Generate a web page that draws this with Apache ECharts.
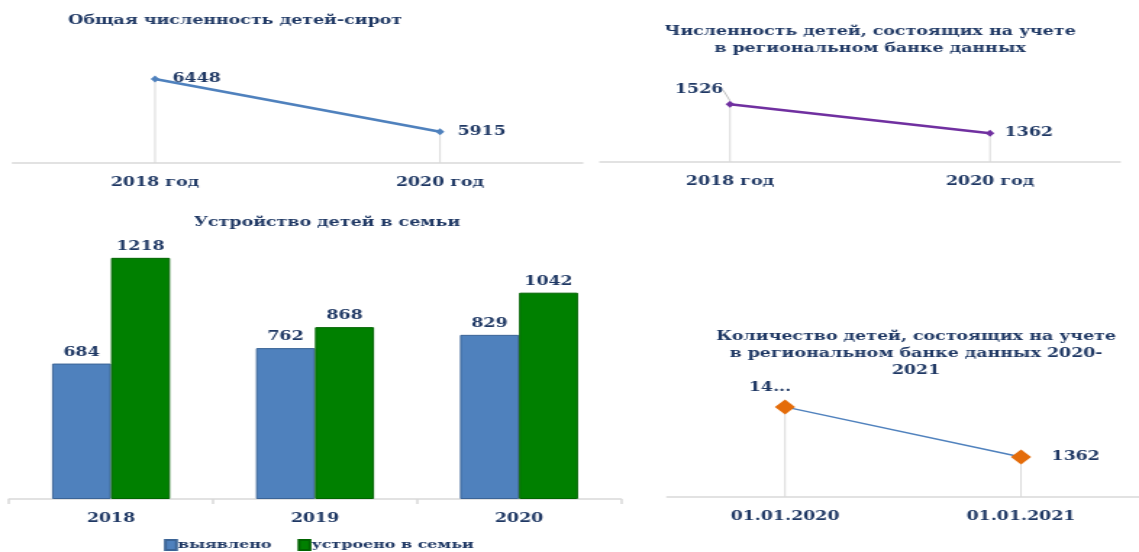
<!DOCTYPE html>
<html>
<head>
<meta charset="utf-8">
<script src="https://cdn.jsdelivr.net/npm/echarts@6/dist/echarts.min.js"></script>
<style>
html,body{margin:0;padding:0;background:#fff;overflow:hidden;}
#c{width:786px;height:552px;transform-origin:0 0;}
</style>
</head>
<body>
<div id="c"></div>
<script>
// ---- data ----
const cat1 = ['2018 год', '2020 год'];
const orphans = [6448, 5915];

const cat2 = ['2018 год', '2020 год'];
const registered = [1526, 1362];

const cat3 = ['2018', '2019', '2020'];
const identified = [684, 762, 829];
const placed = [1218, 868, 1042];

const cat4 = ['01.01.2020', '01.01.2021'];
const registered2 = [1440, 1362];
const labels4 = ['14...', '1362'];

const titles = [
  'Общая численность детей-сирот',
  'Численность детей, состоящих на учете\nв региональном банке данных',
  'Устройство детей в семьи',
  'Количество детей, состоящих на учете\nв региональном банке данных 2020-\n2021'
];
const legendNames = ['выявлено', 'устроено в семьи'];

// ---- layout (page is stretched horizontally like the reference) ----
const W = 786;
const K = 1139 / W;
document.getElementById('c').style.transform = 'scaleX(' + K + ')';
const X = v => v / K;

const NAVY = '#1F3864';
const FONT = 'DejaVu Serif';
const T = {fontFamily: FONT, fontWeight: 'bold', fontSize: 12, color: NAVY};
const AXLINE = {lineStyle: {color: '#D9D9D9', width: 1.5}};

const chart = echarts.init(document.getElementById('c'));

function catAxis(gi, data, ticks) {
  return {
    type: 'category', gridIndex: gi, data: data,
    axisLine: AXLINE,
    axisTick: ticks ? {show: true, length: 5, lineStyle: {color: '#D9D9D9', width: 1.5}} : {show: false},
    axisLabel: Object.assign({margin: 14}, T),
    splitLine: {show: false}
  };
}
function valAxis(gi, min, max) {
  return {type: 'value', gridIndex: gi, min: min, max: max, show: false, splitLine: {show: false}};
}
function dropLines(gi, data) {
  return {
    type: 'bar', xAxisIndex: gi, yAxisIndex: gi, data: data, barWidth: 1,
    itemStyle: {color: '#D9D9D9'}, silent: true, z: 1, label: {show: false}
  };
}

const option = {
  animation: false,
  textStyle: {fontFamily: FONT},
  title: [
    {text: titles[0], left: X(68), top: 15, padding: 0, textStyle: T},
    {text: titles[1], left: X(870), top: 23, padding: 0, textAlign: 'center', textStyle: Object.assign({lineHeight: 17}, T)},
    {text: titles[2], left: X(327), top: 217, padding: 0, textAlign: 'center', textStyle: T},
    {text: titles[3], left: X(916), top: 328, padding: 0, textAlign: 'center', textStyle: Object.assign({lineHeight: 17}, T)}
  ],
  legend: {
    data: legendNames, left: X(164), top: 539, padding: 0,
    icon: 'rect', itemWidth: X(11), itemHeight: 10, itemGap: X(26),
    textStyle: Object.assign({}, T, {fontSize: 11, padding: [0, 0, 0, -4]})
  },
  grid: [
    {left: X(12.5), width: X(570), top: 64, height: 99},
    {left: X(600), width: X(520), top: 82.4, height: 79.6},
    {left: X(9), width: X(612), top: 221.8, height: 277.2},
    {left: X(667), width: X(484), top: 394, height: 103}
  ],
  xAxis: [catAxis(0, cat1), catAxis(1, cat2), catAxis(2, cat3, true), catAxis(3, cat4)],
  yAxis: [valAxis(0, 5600, 6600), valAxis(1, 1200, 1650), valAxis(2, 0, 1400), valAxis(3, 1300, 1460)],
  series: [
    dropLines(0, orphans),
    {
      type: 'line', xAxisIndex: 0, yAxisIndex: 0, data: orphans, z: 3,
      lineStyle: {color: '#4F81BD', width: 2.5}, itemStyle: {color: '#4F81BD'},
      symbol: 'diamond', symbolSize: [6, 7],
      label: Object.assign({show: true, position: 'right', distance: 9}, T)
    },
    dropLines(1, registered),
    {
      type: 'line', xAxisIndex: 1, yAxisIndex: 1, z: 3,
      data: registered.map((v, i) => i === 0
        ? {value: v, labelLine: {show: true, lineStyle: {color: '#BFBFBF', width: 1}}}
        : {value: v, labelLine: {show: false}}),
      lineStyle: {color: '#7030A0', width: 2.5}, itemStyle: {color: '#7030A0'},
      symbol: 'diamond', symbolSize: [6, 7],
      label: Object.assign({show: true, position: 'right', distance: 7}, T),
      labelLayout: function (p) {
        return p.dataIndex === 0 ? {dx: -48, dy: -14} : {};
      }
    },
    {
      name: legendNames[0], type: 'bar', xAxisIndex: 2, yAxisIndex: 2, data: identified,
      barWidth: X(59), barGap: '0%',
      itemStyle: {color: '#4F81BD', borderColor: '#3B6496', borderWidth: 1},
      label: Object.assign({show: true, position: 'top', distance: 5}, T)
    },
    {
      name: legendNames[1], type: 'bar', xAxisIndex: 2, yAxisIndex: 2, data: placed,
      barWidth: X(59), barGap: '0%',
      itemStyle: {color: '#008000', borderColor: '#006400', borderWidth: 1},
      label: Object.assign({show: true, position: 'top', distance: 5}, T)
    },
    dropLines(3, registered2),
    {
      type: 'line', xAxisIndex: 3, yAxisIndex: 3, data: registered2, z: 3,
      lineStyle: {color: '#4F81BD', width: 1.5}, itemStyle: {color: '#E46C0A'},
      symbol: 'diamond', symbolSize: [14, 15],
      label: Object.assign({
        show: true, position: 'right', distance: 14,
        formatter: p => labels4[p.dataIndex]
      }, T),
      labelLayout: function (p) {
        return p.dataIndex === 0 ? {dx: -46, dy: -19} : {};
      }
    }
  ]
};
chart.setOption(option);
</script>
</body>
</html>
